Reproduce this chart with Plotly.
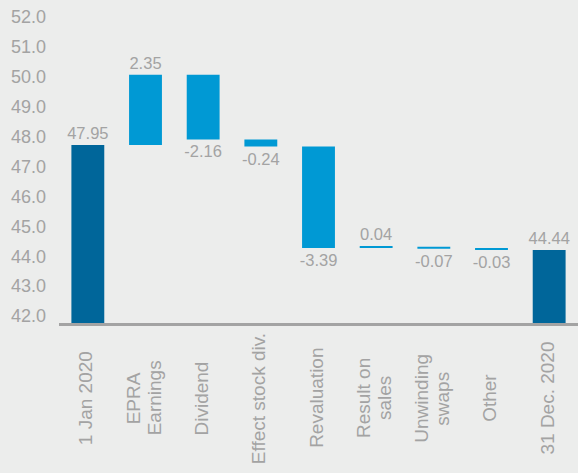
import plotly.graph_objects as go

categories = ["1 Jan 2020", "EPRA Earnings", "Dividend", "Effect stock div.", "Revaluation",
              "Result on sales", "Unwinding swaps", "Other", "31 Dec. 2020"]
tick_lines = [["1 Jan 2020"], ["EPRA", "Earnings"], ["Dividend"], ["Effect stock div."], ["Revaluation"],
              ["Result on", "sales"], ["Unwinding", "swaps"], ["Other"], ["31 Dec. 2020"]]
values = [47.95, 2.35, -2.16, -0.24, -3.39, 0.04, -0.07, -0.03, 44.44]
measures = ["absolute", "relative", "relative", "relative", "relative", "relative", "relative", "relative", "absolute"]
labels = ["47.95", "2.35", "-2.16", "-0.24", "-3.39", "0.04", "-0.07", "-0.03", "44.44"]

BG = "#ecedec"
GRAY = "#a3a3a3"
DARK = "#00669a"
LIGHT = "#0099d4"

fig = go.Figure(go.Waterfall(
    x=categories,
    y=values,
    measure=measures,
    base=0,
    text=labels,
    textposition="outside",
    constraintext="none",
    textfont=dict(size=16.5, color=GRAY),
    totals=dict(marker=dict(color=DARK)),
    increasing=dict(marker=dict(color=LIGHT)),
    decreasing=dict(marker=dict(color=LIGHT)),
    connector=dict(visible=False),
    cliponaxis=False,
))

line_gap = 21
for cat, lines in zip(categories, tick_lines):
    n = len(lines)
    for i, line in enumerate(lines):
        fig.add_annotation(
            x=cat, xref="x", y=-0.24, yref="paper",
            text=line, textangle=-90, showarrow=False,
            xanchor="center", yanchor="middle", align="center",
            xshift=(i - (n - 1) / 2) * line_gap - 2,
            font=dict(size=19, color=GRAY),
        )

fig.update_layout(
    width=578, height=473,
    margin=dict(l=59, r=0, t=9, b=150),
    paper_bgcolor=BG, plot_bgcolor=BG,
    font=dict(family="Liberation Sans, Arial, sans-serif", color=GRAY),
    waterfallgap=0.43,
    showlegend=False,
    xaxis=dict(
        showticklabels=False,
        showline=True, linecolor=GRAY, linewidth=3,
        showgrid=False, ticks="",
    ),
    yaxis=dict(
        range=[42, 52.5],
        tickvals=[42, 43, 44, 45, 46, 47, 48, 49, 50, 51, 52],
        ticktext=["42.0", "43.0", "44.0", "45.0", "46.0", "47.0", "48.0", "49.0", "50.0", "51.0", "52.0"],
        tickfont=dict(size=18, color=GRAY),
        showgrid=False, zeroline=False, showline=False, ticks="",
        ticklabelstandoff=12,
        ticklabelshift=-7,
    ),
)

fig.write_html("out.html")
